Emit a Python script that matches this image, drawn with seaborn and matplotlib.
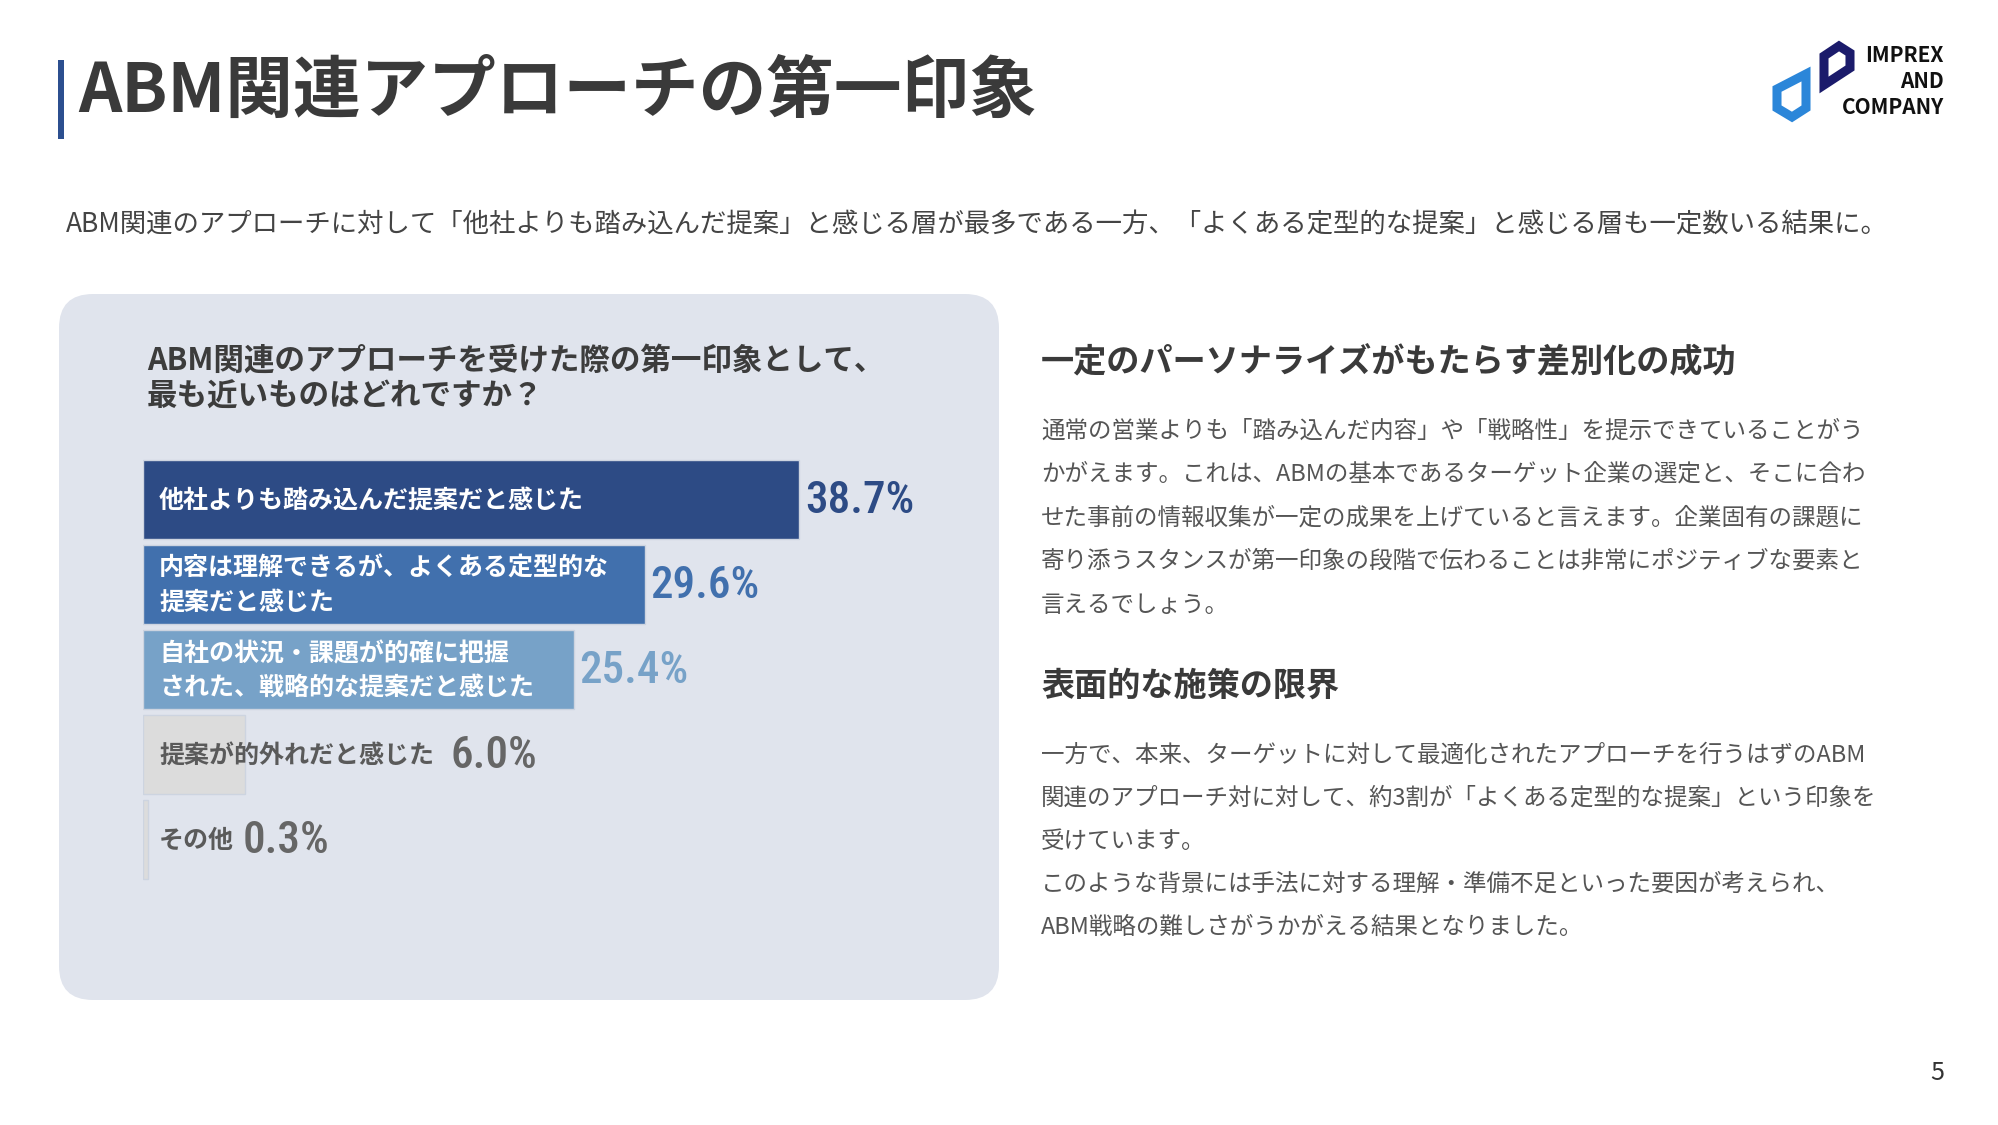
import matplotlib
matplotlib.use("Agg")
import matplotlib.pyplot as plt
from matplotlib.patches import FancyBboxPatch, Polygon, Rectangle
import seaborn as sns
import pandas as pd

# ---------------- data ----------------
categories = [
    "他社よりも踏み込んだ提案だと感じた",
    "内容は理解できるが、よくある定型的な\n提案だと感じた",
    "自社の状況・課題が的確に把握\nされた、戦略的な提案だと感じた",
    "提案が的外れだと感じた",
    "その他",
]
values = [38.7, 29.6, 25.4, 6.0, 0.3]
value_labels = ["38.7%", "29.6%", "25.4%", "6.0%", "0.3%"]
bar_colors = ["#2d4b85", "#4170ad", "#77a2c8", "#dcdcdc", "#dcdcdc"]
label_colors = ["white", "white", "white", "#5a5a5a", "#5a5a5a"]
value_colors = ["#2d4b85", "#4170ad", "#77a2c8", "#666666", "#666666"]

title = "ABM関連アプローチの第一印象"
subtitle = ("ABM関連のアプローチに対して「他社よりも踏み込んだ提案」と感じる層が最多である一方、"
            "「よくある定型的な提案」と感じる層も一定数いる結果に。")
panel_title = ["ABM関連のアプローチを受けた際の第一印象として、", "最も近いものはどれですか？"]
heading1 = "一定のパーソナライズがもたらす差別化の成功"
body1 = [
    "通常の営業よりも「踏み込んだ内容」や「戦略性」を提示できていることがう",
    "かがえます。これは、ABMの基本であるターゲット企業の選定と、そこに合わ",
    "せた事前の情報収集が一定の成果を上げていると言えます。企業固有の課題に",
    "寄り添うスタンスが第一印象の段階で伝わることは非常にポジティブな要素と",
    "言えるでしょう。",
]
heading2 = "表面的な施策の限界"
body2 = [
    "一方で、本来、ターゲットに対して最適化されたアプローチを行うはずのABM",
    "関連のアプローチ対に対して、約3割が「よくある定型的な提案」という印象を",
    "受けています。",
    "このような背景には手法に対する理解・準備不足といった要因が考えられ、",
    "ABM戦略の難しさがうかがえる結果となりました。",
]
logo_lines = ["IMPREX", "AND", "COMPANY"]
page_no = "5"

# ---------------- style ----------------
sns.set_theme(style="white")
JP = ["Noto Sans CJK JP", "DejaVu Sans"]
NUM = ["Roboto Condensed", "DejaVu Sans"]
plt.rcParams["font.family"] = JP

W, H = 1999, 1125
fig = plt.figure(figsize=(W / 100, H / 100), dpi=100)
fig.patch.set_facecolor("white")


def fx(px):
    return px / W


def fy(py):
    return 1 - py / H


# title accent bar
fig.add_artist(Rectangle((fx(58), fy(139)), fx(6), 79 / H, transform=fig.transFigure,
                         facecolor="#2c4f8f", edgecolor="none", zorder=-2))
fig.text(fx(78), fy(92), title, fontsize=48.7, fontweight="bold", color="#3a3a3a",
         va="center", ha="left")

# subtitle
fig.text(fx(66), fy(225), subtitle, fontsize=19, color="#444444", va="center", ha="left")

# panel
PX0, PY0, PX1, PY1 = 59, 294, 999, 1000
fig.add_artist(FancyBboxPatch((fx(PX0), fy(PY1)), fx(PX1 - PX0), (PY1 - PY0) / H,
                              boxstyle="round,pad=0,rounding_size=0.017",
                              transform=fig.transFigure, facecolor="#e0e4ed",
                              edgecolor="none", mutation_aspect=W / H, zorder=-2))
fig.text(fx(147), fy(361), panel_title[0], fontsize=22, fontweight="bold",
         color="#3c3c3c", va="center", ha="left")
fig.text(fx(147), fy(397), panel_title[1], fontsize=22, fontweight="bold",
         color="#3c3c3c", va="center", ha="left")

# ---------------- bar chart ----------------
ax = fig.add_axes([fx(143), fy(882), 847.5 / W, 425 / H])
ax.set_zorder(3)
ax.set_facecolor("none")
df = pd.DataFrame({"cat": categories, "val": values})
sns.barplot(data=df, x="val", y="cat", hue="cat", palette=bar_colors, legend=False,
            orient="h", width=0.94, saturation=1, edgecolor="#cdd4e0", linewidth=1.0, ax=ax)
ax.set_xlim(0, 50)
ax.set_ylim(4.5, -0.5)
ax.axis("off")

fig.canvas.draw()
renderer = fig.canvas.get_renderer()
follow_gap = {3: 16, 4: 9}
for i, (cat, v) in enumerate(zip(categories, values)):
    t = ax.annotate(cat, xy=(0, i), xytext=(16, -1), textcoords="offset pixels",
                    fontsize=18, fontweight="bold", color=label_colors[i],
                    va="center", ha="left", linespacing=1.5)
    if i < 3:
        xd = v
        dx = 6
    else:
        bb = t.get_window_extent(renderer=renderer)
        xd = ax.transData.inverted().transform((bb.x1 + follow_gap[i], 0))[0]
        dx = 0
    ax.annotate(value_labels[i], xy=(xd, i), xytext=(dx, 3), textcoords="offset pixels",
                fontsize=32.5, fontweight="medium", color=value_colors[i], va="center_baseline",
                ha="left", family=NUM, fontstretch="condensed")

# ---------------- right column ----------------
X_R = 1041
fig.text(fx(X_R), fy(363), heading1, fontsize=23.9, fontweight="bold", color="#3a3a3a",
         va="center", ha="left")
for k, line in enumerate(body1):
    fig.text(fx(X_R), fy(431 + k * 43.5), line, fontsize=16.95, color="#555555",
             va="center", ha="left")
fig.text(fx(X_R), fy(686), heading2, fontsize=23.9, fontweight="bold", color="#3a3a3a",
         va="center", ha="left")
for k, line in enumerate(body2):
    fig.text(fx(X_R), fy(755 + k * 43.2), line, fontsize=16.95, color="#555555",
             va="center", ha="left")

# page number
fig.text(fx(1937), fy(1073), page_no, fontsize=18, color="#333333", va="center", ha="center")

# ---------------- logo ----------------
light = [(1777, 89), (1806, 74), (1806, 108), (1792, 117), (1777, 108)]
dark = [(1824, 56), (1839, 46), (1850, 53), (1850, 68), (1824, 85)]
for pts, col in [(light, "#2b86d9"), (dark, "#1b1b6b")]:
    fig.add_artist(Polygon([(fx(a), fy(b)) for a, b in pts], closed=True,
                           transform=fig.transFigure, facecolor="none",
                           edgecolor=col, linewidth=6.5, joinstyle="miter"))
for k, s in enumerate(logo_lines):
    fig.text(fx(1944), fy(55 + k * 26), s, fontsize=15, fontweight="bold",
             color="#111111", va="center", ha="right", family=JP)

fig.savefig("out.png", dpi=100, facecolor="white")
